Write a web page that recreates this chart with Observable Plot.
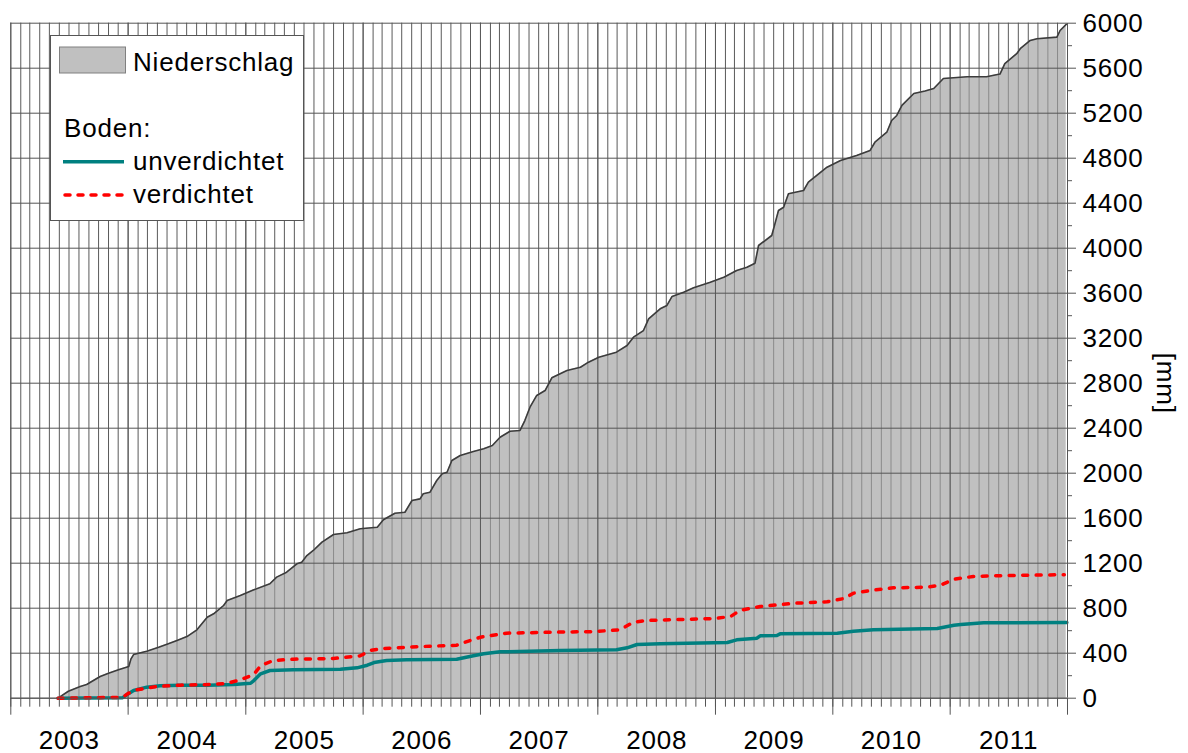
<!DOCTYPE html>
<html><head><meta charset="utf-8">
<script src="https://cdn.jsdelivr.net/npm/d3@7"></script>
<script src="https://cdn.jsdelivr.net/npm/@observablehq/plot@0.6"></script>
<style>body{margin:0;background:#fff;}</style>
</head><body><div id="chart"></div>
<script>
// ---- data ----
const seriesNames = ["Niederschlag", "unverdichtet", "verdichtet"];
const legendTitle = "Boden:";
const yLabel = "[mm]";
const years = [2003, 2004, 2005, 2006, 2007, 2008, 2009, 2010, 2011];
const yTicks = [0, 400, 800, 1200, 1600, 2000, 2400, 2800, 3200, 3600, 4000, 4400, 4800, 5200, 5600, 6000];

const precipDates = ["2003-05-28","2003-06-29","2003-08-05","2003-08-25","2003-10-06","2003-11-01","2003-12-02","2004-01-03","2004-01-10","2004-01-18",
"2004-02-28","2004-04-05","2004-05-05","2004-06-01","2004-07-02","2004-08-02","2004-09-03","2004-09-23","2004-10-24","2004-11-04",
"2004-12-15","2005-01-26","2005-03-17","2005-04-07","2005-05-08","2005-06-09","2005-06-24","2005-07-10","2005-07-30","2005-08-26",
"2005-10-01","2005-11-12","2005-12-23","2006-02-14","2006-03-05","2006-04-10","2006-05-11","2006-06-02","2006-06-27","2006-07-07",
"2006-07-28","2006-08-18","2006-09-04","2006-09-19","2006-10-04","2006-10-30","2006-12-10","2007-01-11","2007-02-07","2007-03-03",
"2007-04-03","2007-05-04","2007-05-19","2007-06-04","2007-06-25","2007-07-21","2007-08-11","2007-09-27","2007-11-08","2007-12-03",
"2008-01-04","2008-02-28","2008-04-01","2008-04-21","2008-05-22","2008-06-07","2008-07-13","2008-08-03","2008-08-19","2008-09-24",
"2008-10-25","2008-12-16","2009-01-27","2009-03-08","2009-04-09","2009-05-04","2009-05-15","2009-06-25","2009-07-05","2009-07-16",
"2009-08-01","2009-08-16","2009-10-02","2009-10-17","2009-11-18","2009-12-14","2010-01-25","2010-03-16","2010-04-27","2010-05-12",
"2010-06-18","2010-07-03","2010-07-19","2010-08-04","2010-09-10","2010-10-15","2010-11-11","2010-12-11","2011-02-23","2011-04-24",
"2011-06-05","2011-06-20","2011-07-27","2011-08-07","2011-09-07","2011-09-28","2011-11-29","2011-12-09","2011-12-28"];
const precipValues = [0,62,104,122,193,222,252,282,350,388,
418,453,484,513,548,608,720,750,824,868,
913,963,1017,1076,1120,1195,1209,1268,1313,1387,
1455,1470,1506,1520,1586,1644,1653,1757,1772,1817,
1831,1935,1995,2009,2113,2157,2193,2217,2246,2320,
2373,2380,2468,2587,2691,2735,2848,2913,2942,2987,
3031,3076,3135,3209,3268,3372,3461,3491,3571,3609,
3648,3698,3742,3802,3831,3867,4024,4113,4217,4335,
4364,4484,4513,4587,4661,4720,4780,4824,4869,4942,
5031,5135,5180,5269,5375,5398,5420,5509,5524,5524,
5548,5640,5729,5773,5847,5862,5876,5935,5989];

const unverdDates = ["2003-05-28","2003-12-15","2003-12-28","2004-01-18","2004-02-28","2004-04-10","2004-06-11","2004-09-03","2004-11-24","2005-01-16",
"2005-01-26","2005-02-16","2005-03-17","2005-05-29","2005-10-22","2005-12-13","2006-01-14","2006-02-04","2006-03-15","2006-05-16",
"2006-10-19","2006-12-10","2007-01-11","2007-03-03","2007-09-07","2008-02-28","2008-04-01","2008-05-02","2008-07-13","2009-02-07",
"2009-03-08","2009-05-10","2009-05-20","2009-07-11","2009-07-21","2010-01-15","2010-03-06","2010-05-07","2010-11-22","2011-01-13",
"2011-02-03","2011-04-15","2011-12-30"];
const unverdValues = [0,5,30,68,98,110,116,116,122,133,
157,217,246,252,258,270,293,317,335,341,
347,377,395,412,424,430,448,477,483,495,
519,533,555,557,572,578,596,608,620,649,
655,670,673];

const verdDates = ["2003-05-28","2003-12-15","2004-01-02","2004-01-29","2004-03-30","2004-06-11","2004-09-23","2004-11-04","2004-12-15","2005-01-26",
"2005-02-16","2005-03-27","2005-05-29","2005-10-01","2005-12-23","2006-01-24","2006-03-05","2006-07-07","2006-10-19","2006-11-30",
"2007-01-01","2007-03-23","2007-09-07","2007-12-18","2008-03-10","2008-04-21","2008-06-02","2008-12-26","2009-02-17","2009-03-18",
"2009-05-20","2009-09-02","2009-12-14","2010-02-05","2010-03-06","2010-04-27","2010-07-08","2010-10-21","2010-12-02","2011-01-13",
"2011-03-14","2011-05-15","2011-11-29","2011-12-22"];
const verdValues = [0,8,44,75,104,116,122,133,163,211,
288,335,347,353,377,424,442,460,471,513,
542,578,588,592,608,676,691,708,726,780,
815,844,857,886,933,957,981,987,1004,1058,
1082,1088,1097,1097];

// ---- build tables ----
const toRows = (dates, values) => dates.map((d, i) => ({date: new Date(d), value: values[i]}));
const precip = toRows(precipDates, precipValues);
const unverd = toRows(unverdDates, unverdValues);
const verd = toRows(verdDates, verdValues);

const xStart = new Date("2003-01-01"), xEnd = new Date("2012-01-01");
const months = d3.utcMonths(xStart, xEnd);
const yearStarts = years.map(y => new Date(Date.UTC(y, 0, 1)));
const yMinor = yTicks.slice(0, -1).map(v => v + 200);

const FONT = '"Liberation Sans", Arial, sans-serif';
const FS = 26;

const chart = Plot.plot({
  width: 1188, height: 753,
  marginLeft: 10.3, marginRight: 121, marginTop: 22.7, marginBottom: 55.3,
  style: {fontFamily: FONT, fontSize: FS + "px", background: "#fff", color: "#000", letterSpacing: "0.8px", overflow: "visible"},
  x: {type: "utc", domain: [xStart, xEnd], label: null},
  y: {domain: [0, 6000], label: null},
  marks: [
    Plot.ruleX(months, {stroke: "#5a5a5a"}),
    Plot.areaY(precip, {x: "date", y: "value", fill: "#c0c0c0"}),
    Plot.ruleX(months, {stroke: "#8a8a8a"}),
    Plot.ruleX(yearStarts, {stroke: "#5b5b5b"}),
    Plot.ruleY(yTicks, {stroke: "#555"}),
    Plot.lineY(precip, {x: "date", y: "value", stroke: "#3c3c3c", strokeWidth: 1.6}),
    Plot.lineY(unverd, {x: "date", y: "value", stroke: "#008080", strokeWidth: 3.5}),
    Plot.lineY(verd, {x: "date", y: "value", stroke: "#ff0000", strokeWidth: 3.5, strokeDasharray: "5,8.5", strokeLinecap: "round"}),
    Plot.ruleY([0], {stroke: "#555"}),
    Plot.ruleX([xEnd], {stroke: "#555"}),
    Plot.axisX(months, {anchor: "bottom", tickSize: 9, tickFormat: () => "", stroke: "#555"}),
    Plot.axisX(yearStarts.concat([xEnd]), {anchor: "bottom", tickSize: 17, tickFormat: () => "", stroke: "#555"}),
    Plot.text(years, {x: y => new Date(Date.UTC(y, 6, 2)), y: () => 0, dy: 42, text: d => String(d), fontSize: FS, lineAnchor: "middle", fill: "#000"}),
    Plot.axisY(yTicks, {anchor: "right", tickSize: 8, tickPadding: 7, fontSize: FS, stroke: "#555", fill: "#000", tickFormat: d => String(d)}),
    Plot.axisY(yMinor, {anchor: "right", tickSize: 4, tickFormat: () => "", stroke: "#555"}),
    Plot.text([yLabel], {frameAnchor: "right", dx: 98, dy: 53, rotate: 90, fontSize: FS, fill: "#000"})
  ]
});
document.getElementById("chart").appendChild(chart);

// clip the lighter gridlines to the precipitation area
const svg = d3.select(chart);
const areaPath = svg.select('g[fill="#c0c0c0"] path');
if (!areaPath.empty()) {
  svg.append("defs").append("clipPath").attr("id", "areaClip")
    .append("path").attr("d", areaPath.attr("d"));
  svg.selectAll('g[stroke="#8a8a8a"]').attr("clip-path", "url(#areaClip)");
}

// legend
const lg = svg.append("g").attr("font-family", FONT).attr("font-size", FS)
  .attr("text-anchor", "start").style("text-anchor", "start").style("letter-spacing", "0.8px");
lg.append("rect").attr("x", 50.5).attr("y", 35.5).attr("width", 253).attr("height", 185)
  .attr("fill", "#fff").attr("stroke", "#555").attr("stroke-width", 1);
lg.append("rect").attr("x", 59.5).attr("y", 47).attr("width", 66).attr("height", 26)
  .attr("fill", "#c0c0c0").attr("stroke", "#808080").attr("stroke-width", 1);
lg.append("text").attr("x", 133).attr("y", 71).text(seriesNames[0]);
lg.append("text").attr("x", 64).attr("y", 137).text(legendTitle);
lg.append("line").attr("x1", 63).attr("x2", 124).attr("y1", 161.7).attr("y2", 161.7)
  .attr("stroke", "#008080").attr("stroke-width", 3.5);
lg.append("text").attr("x", 133).attr("y", 170).text(seriesNames[1]);
lg.append("line").attr("x1", 65).attr("x2", 124).attr("y1", 195).attr("y2", 195)
  .attr("stroke", "#ff0000").attr("stroke-width", 3.5).attr("stroke-dasharray", "5,8").attr("stroke-linecap", "round");
lg.append("text").attr("x", 133).attr("y", 203).text(seriesNames[2]);
</script>
</body></html>
